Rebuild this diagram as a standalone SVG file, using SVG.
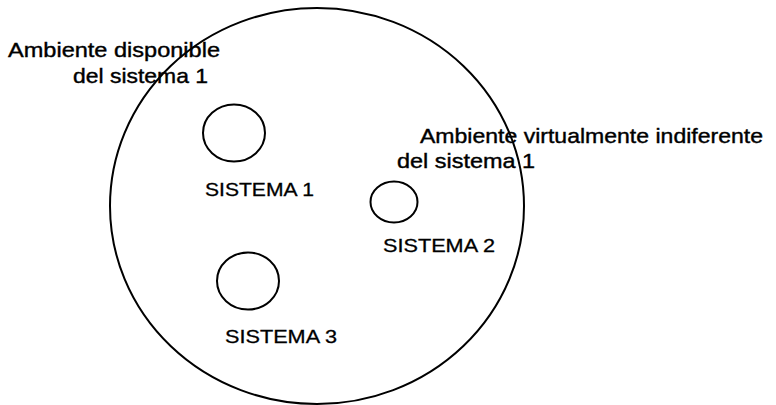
<svg xmlns="http://www.w3.org/2000/svg" width="776" height="405" viewBox="0 0 776 405">
<style>
.sh{fill:none;stroke:#000;stroke-width:2}
.t{font-family:"Liberation Sans",Arial,sans-serif;font-size:21px;fill:#000;stroke:#000;stroke-width:0.4}
.s{font-family:"Liberation Sans",Arial,sans-serif;font-size:19px;fill:#000;stroke:#000;stroke-width:0.3}
</style>
<rect width="776" height="405" fill="#fff"/>
<g id="ambiente">
<ellipse class="sh" cx="317" cy="206" rx="207" ry="198"/>
</g>
<g id="label-disponible">
<text class="t" x="8" y="57" textLength="212" lengthAdjust="spacingAndGlyphs">Ambiente disponible</text>
<text class="t" x="73" y="83" textLength="135" lengthAdjust="spacingAndGlyphs">del sistema 1</text>
</g>
<g id="label-indiferente">
<text class="t" x="420" y="143" textLength="343" lengthAdjust="spacingAndGlyphs">Ambiente virtualmente indiferente</text>
<text class="t" x="397" y="168" textLength="138" lengthAdjust="spacingAndGlyphs">del sistema 1</text>
</g>
<g id="sistema1">
<ellipse class="sh" cx="234" cy="133" rx="31" ry="28.5"/>
<text class="s" x="205" y="196" textLength="109" lengthAdjust="spacingAndGlyphs">SISTEMA 1</text>
</g>
<g id="sistema2">
<ellipse class="sh" cx="394" cy="202" rx="23.5" ry="20.5"/>
<text class="s" x="383" y="252" textLength="112" lengthAdjust="spacingAndGlyphs">SISTEMA 2</text>
</g>
<g id="sistema3">
<ellipse class="sh" cx="248" cy="281" rx="31" ry="28.5"/>
<text class="s" x="225" y="343" textLength="112" lengthAdjust="spacingAndGlyphs">SISTEMA 3</text>
</g>
<g id="connectors"></g>
</svg>
